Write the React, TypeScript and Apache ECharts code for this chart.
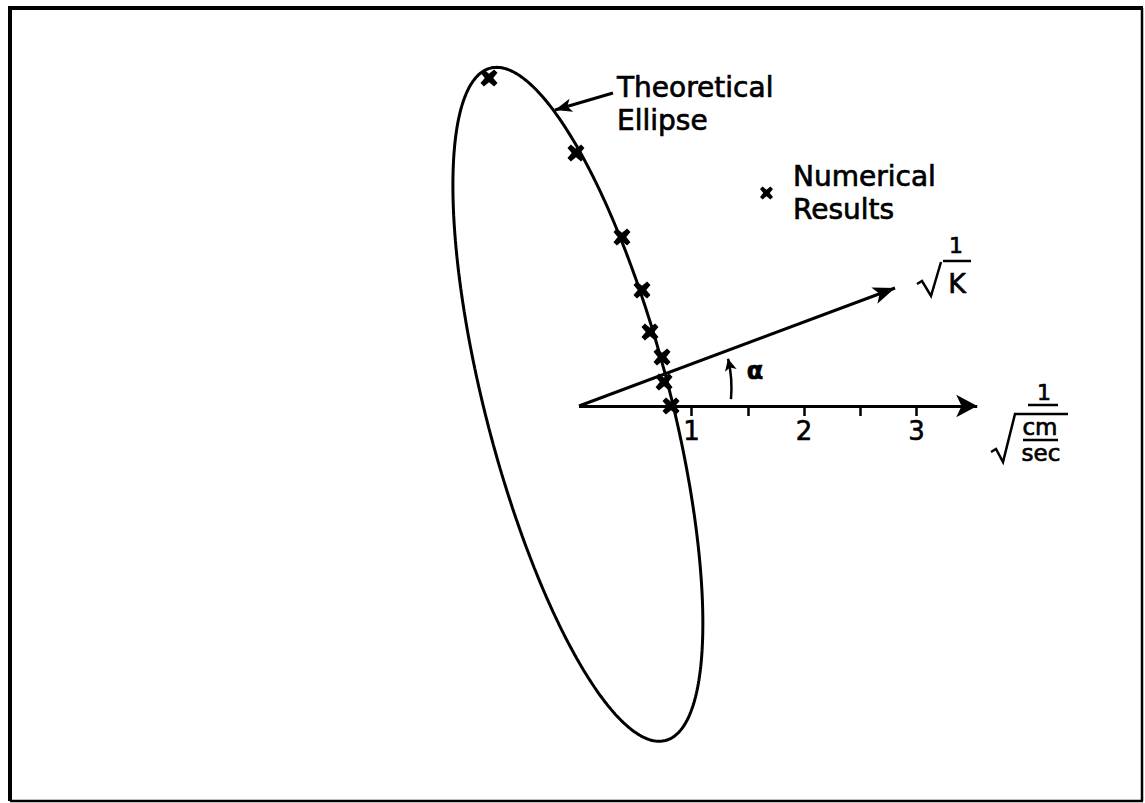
import React, { useEffect, useRef } from "react";
import * as echarts from "echarts";

// Numerical results in the (1/√(cm/sec), 1/√K) plane
const resultX = [-0.8, -0.027, 0.382, 0.56, 0.631, 0.738, 0.756, 0.818];
const resultY = [2.916, 2.249, 1.502, 1.031, 0.658, 0.436, 0.213, 0.0];

// Theoretical ellipse: centre, semi-axes and tilt of the major axis (degrees)
const ellipseCenter = [-0.01, 0.015];
const ellipseSemiMajor = 3.088;
const ellipseSemiMinor = 0.819;
const ellipseTiltDeg = 104.6;

// Horizontal axis: tick positions, labelled values, arrow tip
const axisTicks = [1, 1.5, 2, 2.5, 3];
const axisLabels = [1, 2, 3];
const axisArrowTip = [3.54, 0];

// 1/√K ray, angle arc and the pointer to the ellipse (arrow tips last)
const rayStart = [0, 0];
const rayArrowTip = [2.809, 1.049];
const arcStart = [1.351, 0.062];
const arcTip = [1.325, 0.42];
const pointerStart = [0.302, 2.782];
const pointerTip = [-0.213, 2.631];

const FONT = "DejaVu Sans";
const INK = "#000";
const CROSS =
  "path://M0,4 L4,0 L10,5 L16,0 L20,4 L15,10 L20,16 L16,20 L10,15 L4,20 L0,16 L5,10 Z";

function ellipsePoints(): number[][] {
  const pts: number[][] = [];
  const th = (ellipseTiltDeg * Math.PI) / 180;
  for (let i = 0; i <= 360; i++) {
    const t = (i * Math.PI) / 180;
    const u = ellipseSemiMajor * Math.cos(t);
    const v = ellipseSemiMinor * Math.sin(t);
    pts.push([
      ellipseCenter[0] + u * Math.cos(th) - v * Math.sin(th),
      ellipseCenter[1] + u * Math.sin(th) + v * Math.cos(th),
    ]);
  }
  return pts;
}

export default function App() {
  const ref = useRef<HTMLDivElement>(null);

  useEffect(() => {
    const el = ref.current;
    if (!el) return;
    const chart = echarts.init(el, null, { renderer: "svg" });

    const results = resultX.map((x, i) => [x, resultY[i]]);

    const line = (x1: number, y1: number, x2: number, y2: number, w: number) => ({
      type: "line",
      shape: { x1, y1, x2, y2 },
      style: { stroke: INK, lineWidth: w },
      silent: true,
    });
    const text = (
      t: string,
      x: number,
      y: number,
      size: number,
      extra: Record<string, unknown> = {}
    ) => ({
      type: "text",
      x,
      y,
      silent: true,
      style: {
        text: t,
        fontSize: size,
        fontFamily: FONT,
        fill: INK,
        stroke: INK,
        lineWidth: 0.7,
        align: "center",
        verticalAlign: "middle",
        ...extra,
      },
    });

    const option = {
      animation: false,
      backgroundColor: "#fff",
      grid: [
        { left: 16.5, top: 12.25, width: 1125, height: 787.5 },
        { left: 579, top: 396, width: 393.75, height: 10 },
      ],
      xAxis: [
        { gridIndex: 0, type: "value", min: -5, max: 5, show: false },
        {
          gridIndex: 1,
          type: "value",
          min: 0,
          max: 3.5,
          axisLine: { show: false },
          splitLine: { show: false },
          axisTick: {
            show: true,
            customValues: axisTicks,
            length: 10,
            lineStyle: { color: INK, width: 2.5 },
          },
          axisLabel: {
            show: true,
            customValues: axisLabels,
            margin: 12,
            fontSize: 26,
            fontFamily: FONT,
            color: INK,
            textBorderColor: INK,
            textBorderWidth: 0.6,
          },
        },
      ],
      yAxis: [
        { gridIndex: 0, type: "value", min: -3.5, max: 3.5, show: false },
        { gridIndex: 1, type: "value", min: 0, max: 1, show: false },
      ],
      legend: {
        show: true,
        data: ["Numerical Results"],
        left: 760,
        top: 160,
        padding: 0,
        itemWidth: 43,
        itemHeight: 13,
        icon: CROSS,
        itemStyle: { color: INK, opacity: 1 },
        formatter: () => "Numerical\nResults",
        textStyle: {
          fontSize: 28,
          lineHeight: 33,
          fontFamily: FONT,
          color: INK,
          textBorderColor: INK,
          textBorderWidth: 0.7,
        },
        selectedMode: false,
      },
      series: [
        {
          name: "Theoretical Ellipse",
          type: "line",
          xAxisIndex: 0,
          yAxisIndex: 0,
          data: ellipsePoints(),
          showSymbol: false,
          symbol: "none",
          lineStyle: { color: INK, width: 3 },
          silent: true,
          z: 2,
        },
        {
          name: "Arrows",
          type: "lines",
          coordinateSystem: "cartesian2d",
          xAxisIndex: 0,
          yAxisIndex: 0,
          symbol: ["none", "arrow"],
          lineStyle: { color: INK, width: 3, opacity: 1 },
          silent: true,
          z: 3,
          data: [
            { coords: [rayStart, axisArrowTip], symbolSize: [0, [17, 21]] },
            { coords: [rayStart, rayArrowTip], symbolSize: [0, [13, 22]] },
            {
              coords: [pointerStart, pointerTip],
              symbolSize: [0, [10, 17]],
              lineStyle: { width: 3 },
            },
            {
              coords: [arcStart, arcTip],
              symbolSize: [0, [9, 12]],
              lineStyle: { width: 2.5, curveness: -0.08 },
            },
          ],
          symbolSize: [0, [14, 20]],
        },
        {
          name: "Numerical Results",
          type: "scatter",
          xAxisIndex: 0,
          yAxisIndex: 0,
          data: results,
          symbol: CROSS,
          symbolSize: 17,
          itemStyle: { color: INK, opacity: 1 },
          silent: true,
          z: 4,
        },
      ],
      graphic: [
        // frame
        line(10, 8, 10, 801, 4),
        line(8, 8, 1143, 8, 4),
        line(1142, 8, 1142, 801, 2.5),
        line(10, 801, 1143, 801, 2.5),
        // curve label
        text("Theoretical\nEllipse", 617, 71, 28, {
          align: "left",
          verticalAlign: "top",
          lineHeight: 33,
        }),
        // angle label
        text("α", 755, 371, 24, { fontWeight: "bold" }),
        // 1/√K
        text("1", 956, 245, 22),
        line(943, 261, 971, 261, 2.5),
        {
          type: "polyline",
          silent: true,
          shape: { points: [[917, 284], [922, 281], [931, 296], [941, 262]] },
          style: { stroke: INK, lineWidth: 2.5, fill: "none" },
        },
        text("K", 957, 283, 27),
        // 1/√(cm/sec)
        text("1", 1044, 392, 22),
        line(1028, 405, 1058, 405, 2.5),
        {
          type: "polyline",
          silent: true,
          shape: {
            points: [[991, 452], [996, 449], [1003, 462], [1015, 414], [1068, 414]],
          },
          style: { stroke: INK, lineWidth: 2.5, fill: "none" },
        },
        text("cm", 1040, 427, 23),
        line(1023, 440, 1058, 440, 2.5),
        text("sec", 1041, 453, 23),
      ],
    };

    chart.setOption(option as any);
    return () => chart.dispose();
  }, []);

  return (
    <div
      ref={ref}
      style={{
        position: "fixed",
        left: 0,
        top: 0,
        width: 1145,
        height: 803,
        background: "#fff",
      }}
    />
  );
}
